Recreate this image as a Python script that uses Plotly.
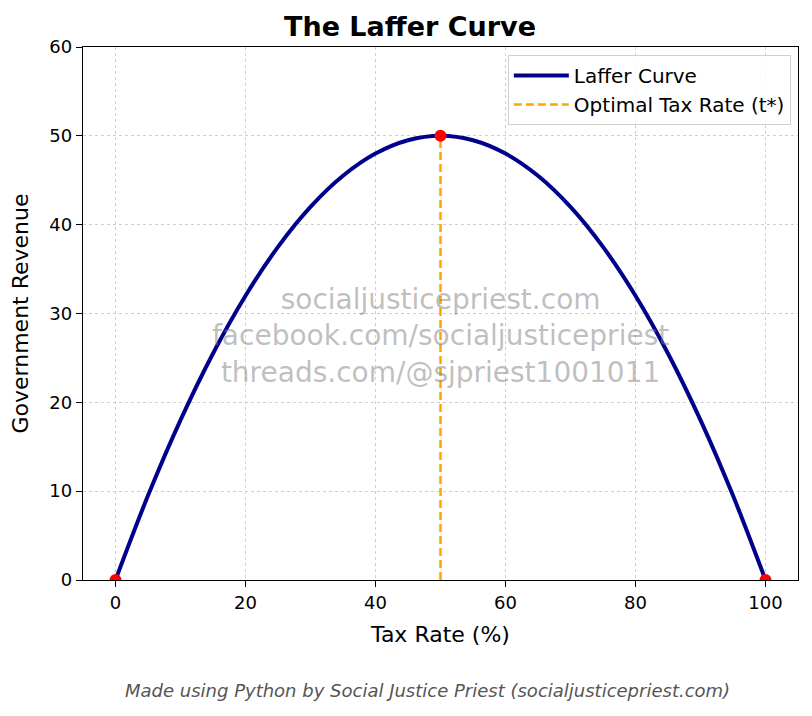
import plotly.graph_objects as go

# Values
tax_rate = [0, 5, 10, 15, 20, 25, 30, 35, 40, 45, 50, 55, 60, 65, 70, 75, 80, 85, 90, 95, 100]
revenue = [0, 9.5, 18, 25.5, 32, 37.5, 42, 45.5, 48, 49.5, 50, 49.5, 48, 45.5, 42, 37.5, 32, 25.5, 18, 9.5, 0]

optimal_rate = 50
max_revenue = 50
point_x = [0, 50, 100]
point_y = [0, 50, 0]

x_ticks = [0, 20, 40, 60, 80, 100]
y_ticks = [0, 10, 20, 30, 40, 50, 60]

font = "DejaVu Sans"

fig = go.Figure()

fig.add_trace(go.Scatter(
    x=tax_rate, y=revenue, mode="lines", name="Laffer Curve",
    line=dict(color="#00008B", width=4, shape="spline"),
))

fig.add_trace(go.Scatter(
    x=[optimal_rate, optimal_rate], y=[0, max_revenue], mode="lines",
    name="Optimal Tax Rate (t*)",
    line=dict(color="#FFA500", width=2.5, dash="8px,4px"),
))

fig.add_trace(go.Scatter(
    x=point_x, y=point_y, mode="markers", showlegend=False,
    marker=dict(color="red", size=12), cliponaxis=True,
))

axis_common = dict(
    showline=True, linecolor="black", linewidth=1.3, mirror=True,
    ticks="outside", ticklen=6, tickcolor="black", tickwidth=1.2,
    showgrid=True, gridcolor="#cfcfcf", griddash="dot", gridwidth=1,
    zeroline=False, tickfont=dict(size=18, color="black", family=font),
    automargin=False,
)

fig.update_xaxes(range=[-5, 105], tickvals=x_ticks,
                 title=dict(text="Tax Rate (%)", font=dict(size=22, color="black", family=font), standoff=14),
                 **axis_common)
fig.update_yaxes(range=[0, 60], tickvals=y_ticks,
                 title=dict(text="Government Revenue", font=dict(size=22, color="black", family=font), standoff=14),
                 **axis_common)

# page body adds ~8px offset, so figure is a bit smaller than the window
plot_h = 533
fig.update_layout(
    width=804, height=708,
    margin=dict(l=75, r=14, t=39, b=136),
    paper_bgcolor="white", plot_bgcolor="white",
    font=dict(family=font, color="black"),
    title=dict(text="<b>The Laffer Curve</b>", x=0.5, xanchor="center",
               y=1 - 19 / 708, yanchor="middle", font=dict(size=27, family=font)),
    legend=dict(x=0.99, y=0.985, xanchor="right", yanchor="top",
                bgcolor="rgba(255,255,255,0.8)", bordercolor="#d0d0d0", borderwidth=1,
                font=dict(size=20, family=font), tracegroupgap=2, itemwidth=55),
    annotations=[
        dict(text="socialjusticepriest.com<br>facebook.com/socialjusticepriest<br>threads.com/@sjpriest1001011",
             x=0.5, y=0.458, xref="paper", yref="paper", showarrow=False,
             xanchor="center", yanchor="middle",
             font=dict(size=28, color="rgba(128,128,128,0.5)", family=font)),
        dict(text="<i>Made using Python by Social Justice Priest (socialjusticepriest.com)</i>",
             x=0.4825, y=-(691 - 580) / plot_h, xref="paper", yref="paper", showarrow=False,
             xanchor="center", yanchor="middle",
             font=dict(size=18, color="#555555", family=font)),
    ],
)

fig.write_html("out.html")
